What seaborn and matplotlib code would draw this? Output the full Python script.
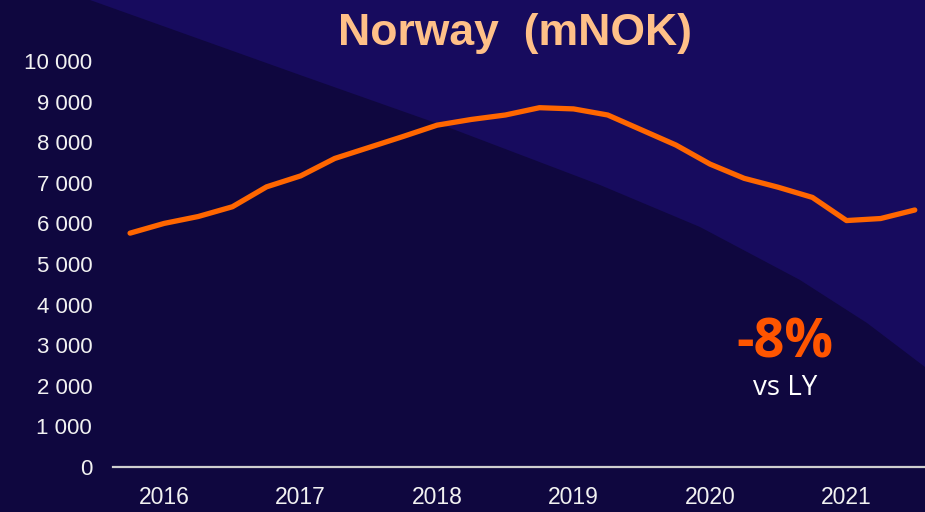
import matplotlib
matplotlib.use("Agg")
import matplotlib.pyplot as plt
from matplotlib.patches import Polygon
import seaborn as sns
import pandas as pd
import numpy as np

sns.set_theme(style="white")
plt.rcParams['font.family'] = ['Liberation Sans', 'DejaVu Sans']

# Data: rolling quarterly values, 2015 Q4 .. 2021 Q3 (mNOK)
quarters = ["2015Q4",
            "2016Q1", "2016Q2", "2016Q3", "2016Q4",
            "2017Q1", "2017Q2", "2017Q3", "2017Q4",
            "2018Q1", "2018Q2", "2018Q3", "2018Q4",
            "2019Q1", "2019Q2", "2019Q3", "2019Q4",
            "2020Q1", "2020Q2", "2020Q3", "2020Q4",
            "2021Q1", "2021Q2", "2021Q3"]
values = [5760, 6000, 6170, 6410, 6900, 7170, 7600, 7870, 8140, 8420, 8560, 8670,
          8850, 8820, 8670, 8300, 7930, 7460, 7110, 6890, 6640, 6070, 6120, 6330]
year_labels = ["2016", "2017", "2018", "2019", "2020", "2021"]
y_ticks = [0, 1000, 2000, 3000, 4000, 5000, 6000, 7000, 8000, 9000, 10000]
change_text = "-8%"
change_sub = "vs LY"
title = "Norway  (mNOK)"

df = pd.DataFrame({"quarter": quarters, "value": values})
df["pos"] = np.arange(len(df))

W, H = 925, 512
bg_dark = "#0f073f"
bg_light = "#170b5e"

fig = plt.figure(figsize=(W / 100, H / 100), dpi=100)
fig.patch.set_facecolor(bg_dark)

# lighter band in the upper right (decoration)
band_px = [(90, 0), (300, 75), (450, 128), (600, 185), (700, 227), (800, 280),
           (867, 323), (925, 367), (925, 0)]
band = Polygon([(x / W, 1 - y / H) for x, y in band_px], closed=True,
               transform=fig.transFigure, facecolor=bg_light, edgecolor="none", zorder=0)
fig.add_artist(band)

ax = fig.add_axes([113 / W, 1 - 467 / H, 1 - 113 / W, (467 - 61) / H])
ax.set_facecolor("none")

sns.lineplot(data=df, x="pos", y="value", ax=ax, color="#ff6600", linewidth=3.8,
             solid_capstyle="round", solid_joinstyle="round")

ax.set_xlim(-0.5, 23.3)
ax.set_ylim(0, 10000)
ax.set_yticks(y_ticks)
ax.set_yticklabels([f"{v:,}".replace(",", " ") for v in y_ticks])
tick_pos = [quarters.index(y + "Q1") for y in year_labels]
ax.set_xticks(tick_pos)
ax.set_xticklabels(year_labels)
ax.tick_params(axis="y", length=0, pad=15, labelsize=16, labelcolor="#f2f2f2")
ax.tick_params(axis="x", length=0, pad=14, labelsize=16.5, labelcolor="#f2f2f2")
ax.set_xlabel("")
ax.set_ylabel("")
for s in ["top", "right", "left"]:
    ax.spines[s].set_visible(False)
ax.spines["bottom"].set_color("#cfcfcf")
ax.spines["bottom"].set_linewidth(1.6)
ax.grid(False)

fig.text(515 / W, 1 - 33 / H, title, ha="center", va="center", color="#ffc088",
         fontsize=32, fontweight="bold")
fig.text(785 / W, 1 - 343 / H, change_text, ha="center", va="center", color="#ff5500",
         fontsize=39, fontweight="bold", family=["Open Sans", "DejaVu Sans"])
fig.text(785 / W, 1 - 388 / H, change_sub, ha="center", va="center", color="#ffffff",
         fontsize=20, family=["Open Sans", "DejaVu Sans"])

fig.savefig("out.png", dpi=100, facecolor=fig.get_facecolor())
